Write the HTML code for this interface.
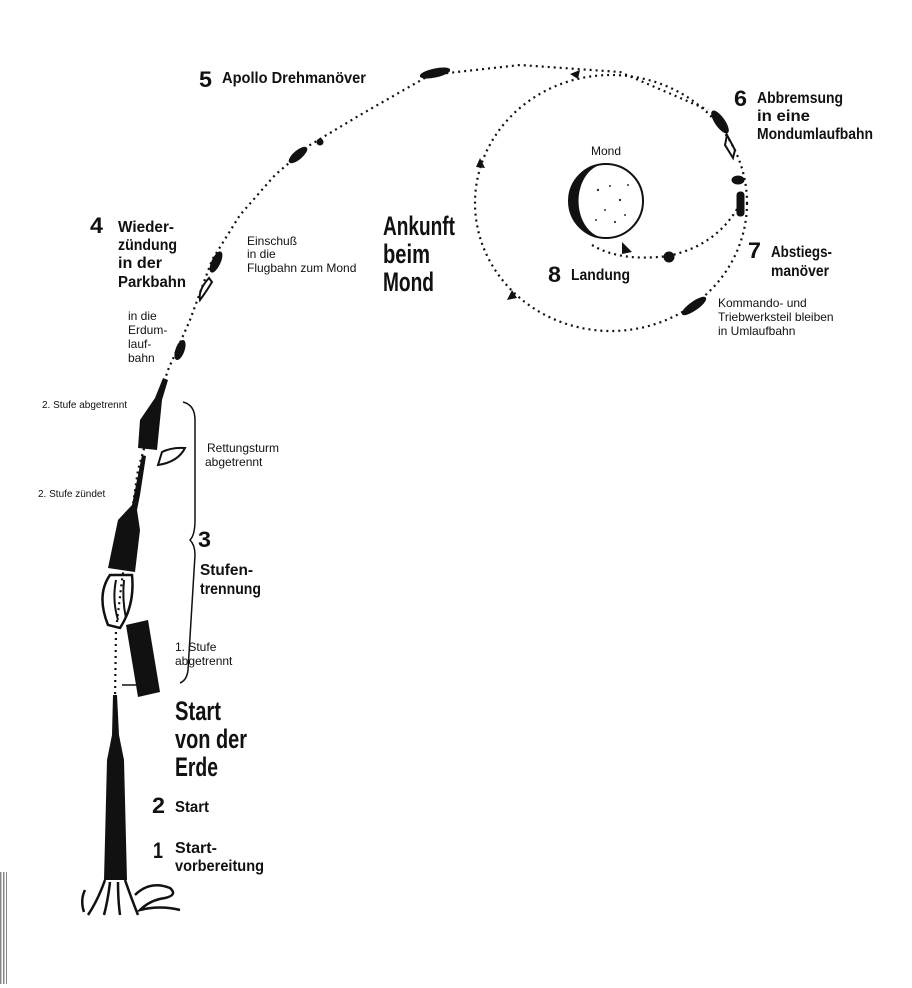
<!DOCTYPE html>
<html><head><meta charset="utf-8">
<style>
html,body{margin:0;padding:0;background:#fff;}
svg{display:block;}
.b{font-family:"Liberation Sans",sans-serif;font-weight:bold;fill:#111;}
.r{font-family:"Liberation Sans",sans-serif;fill:#111;}
</style></head><body>
<svg width="912" height="988" viewBox="0 0 912 988" xmlns="http://www.w3.org/2000/svg">
<rect width="912" height="988" fill="#fff"/>
<g fill="#888"><rect x="0" y="872" width="1.5" height="112"/><rect x="3" y="872" width="1.5" height="112"/><rect x="6" y="872" width="1" height="112"/></g>

<g fill="none" stroke="#111" stroke-width="2.2" stroke-dasharray="2 4">
<path d="M115 700 L116 630 L122 580 L138 470 L152 420 L168 370 L190 320 L212 260 L240 215 L275 175 L310 145 L360 115 L430 75 L520 65 L620 72 L708 110"/>
<ellipse cx="611" cy="203" rx="136" ry="128"/>
<path d="M592 245 Q620 262 668 256 Q720 245 742 200"/>
</g>
<g fill="#111">
<polygon points="570,74 580,70 578,79"/>
<polygon points="480,158 485,168 476,167"/>
<polygon points="512,290 507,300 517,298"/>
<polygon points="622,242 632,252 622,254"/>
</g>

<circle cx="606" cy="201" r="37" fill="#fff" stroke="#111" stroke-width="2"/>
<path d="M606 164 A37 37 0 0 0 606 238 A26 35 0 0 1 606 164Z" fill="#111"/>
<g fill="#333"><circle cx="598" cy="190" r="1.2"/><circle cx="610" cy="186" r="1"/><circle cx="620" cy="200" r="1.2"/><circle cx="605" cy="210" r="1"/><circle cx="615" cy="222" r="1.1"/><circle cx="596" cy="220" r="1"/><circle cx="628" cy="185" r="1"/><circle cx="625" cy="215" r="1"/></g>

<g fill="#111" stroke="#111">
<ellipse cx="435" cy="73" rx="15" ry="4" transform="rotate(-12 435 73)"/>
<ellipse cx="298" cy="155" rx="11" ry="4" transform="rotate(-40 298 155)"/>
<circle cx="320" cy="142" r="3"/>
<ellipse cx="216" cy="262" rx="11" ry="4" transform="rotate(-65 216 262)"/>
<path d="M209 278 Q198 290 200 300 Q206 292 212 282Z" fill="none" stroke-width="2"/>
<ellipse cx="180" cy="350" rx="10" ry="4" transform="rotate(-70 180 350)"/>
<ellipse cx="720" cy="122" rx="13" ry="4.5" transform="rotate(55 720 122)"/>
<path d="M727 135 L735 150 L733 158 L725 145Z" fill="none" stroke-width="2"/>
<ellipse cx="738" cy="180" rx="6" ry="4"/>
<rect x="737" y="192" width="7" height="24" rx="3"/>
<ellipse cx="694" cy="306" rx="14" ry="4" transform="rotate(-35 694 306)"/>
<ellipse cx="669" cy="257" rx="5" ry="5"/>
</g>

<g fill="#111">
<path d="M163 378 L168 380 L162 400 L157 450 L138 448 L140 420 L155 398Z"/>
<path d="M162 452 Q172 447 185 448 Q178 462 158 465Z" fill="none" stroke="#111" stroke-width="2"/>
<path d="M142 455 L146 456 L140 495 L137 510 L140 530 L135 572 L108 568 L118 520 L132 505Z"/>
<path d="M110 575 Q96 595 108 625 L120 628 Q135 605 132 575Z" fill="none" stroke="#111" stroke-width="2.5"/>
<path d="M116 580 Q112 600 118 620 M124 580 Q122 600 126 618" fill="none" stroke="#111" stroke-width="2"/>
<path d="M126 625 L148 620 L160 692 L138 697Z"/>
<path d="M113 695 L117 695 L119 735 L124 760 L127 880 L104 880 L107 760 L112 735Z"/>
</g>
<line x1="122" y1="685" x2="140" y2="685" stroke="#111" stroke-width="1.5"/>
<g fill="none" stroke="#111" stroke-width="2.5">
<path d="M105 880 Q98 900 88 915 M110 882 Q108 900 104 915 M118 882 Q118 900 120 915 M125 880 Q132 900 138 915"/>
<path d="M135 895 Q150 880 170 888 Q178 895 165 898 Q150 900 140 910 Q160 905 180 910"/>
<path d="M85 890 Q80 900 84 912"/>
</g>
<path d="M183 402 Q195 405 195 420 L195 520 Q195 535 190 540 Q195 545 195 555 L188 670 Q187 680 180 683" fill="none" stroke="#111" stroke-width="1.5"/>

<text class="b" x="199" y="87" font-size="22" textLength="13" lengthAdjust="spacingAndGlyphs">5</text>
<text class="b" x="222" y="83" font-size="16" textLength="144" lengthAdjust="spacingAndGlyphs">Apollo Drehmanöver</text>
<text class="b" x="734" y="106" font-size="22" textLength="13" lengthAdjust="spacingAndGlyphs">6</text>
<text class="b" x="757" y="103" font-size="16" textLength="86" lengthAdjust="spacingAndGlyphs">Abbremsung</text>
<text class="b" x="757" y="121" font-size="16" textLength="53" lengthAdjust="spacingAndGlyphs">in eine</text>
<text class="b" x="757" y="139" font-size="16" textLength="116" lengthAdjust="spacingAndGlyphs">Mondumlaufbahn</text>
<text class="b" x="90" y="233" font-size="22" textLength="13" lengthAdjust="spacingAndGlyphs">4</text>
<text class="b" x="118" y="232" font-size="16" textLength="56" lengthAdjust="spacingAndGlyphs">Wieder-</text>
<text class="b" x="118" y="250" font-size="16" textLength="59" lengthAdjust="spacingAndGlyphs">zündung</text>
<text class="b" x="118" y="268" font-size="16" textLength="44" lengthAdjust="spacingAndGlyphs">in der</text>
<text class="b" x="118" y="287" font-size="16" textLength="68" lengthAdjust="spacingAndGlyphs">Parkbahn</text>
<text class="r" x="247" y="245" font-size="12">Einschuß</text>
<text class="r" x="247" y="258" font-size="12">in die</text>
<text class="r" x="247" y="272" font-size="12">Flugbahn zum Mond</text>
<text class="b" x="383" y="235" font-size="27" textLength="72" lengthAdjust="spacingAndGlyphs">Ankunft</text>
<text class="b" x="383" y="263" font-size="27" textLength="47" lengthAdjust="spacingAndGlyphs">beim</text>
<text class="b" x="383" y="291" font-size="27" textLength="51" lengthAdjust="spacingAndGlyphs">Mond</text>
<text class="r" x="591" y="155" font-size="12">Mond</text>
<text class="b" x="548" y="282" font-size="22" textLength="13" lengthAdjust="spacingAndGlyphs">8</text>
<text class="b" x="571" y="280" font-size="16" textLength="59" lengthAdjust="spacingAndGlyphs">Landung</text>
<text class="b" x="748" y="258" font-size="22" textLength="13" lengthAdjust="spacingAndGlyphs">7</text>
<text class="b" x="771" y="257" font-size="16" textLength="61" lengthAdjust="spacingAndGlyphs">Abstiegs-</text>
<text class="b" x="771" y="276" font-size="16" textLength="58" lengthAdjust="spacingAndGlyphs">manöver</text>
<text class="r" x="718" y="307" font-size="12">Kommando- und</text>
<text class="r" x="718" y="321" font-size="12">Triebwerksteil bleiben</text>
<text class="r" x="718" y="335" font-size="12">in Umlaufbahn</text>
<text class="r" x="128" y="320" font-size="12">in die</text>
<text class="r" x="128" y="334" font-size="12">Erdum-</text>
<text class="r" x="128" y="348" font-size="12">lauf-</text>
<text class="r" x="128" y="362" font-size="12">bahn</text>
<text class="r" x="42" y="408" font-size="10">2. Stufe abgetrennt</text>
<text class="r" x="207" y="452" font-size="12">Rettungsturm</text>
<text class="r" x="205" y="466" font-size="12">abgetrennt</text>
<text class="r" x="38" y="497" font-size="10">2. Stufe zündet</text>
<text class="b" x="198" y="547" font-size="22" textLength="13" lengthAdjust="spacingAndGlyphs">3</text>
<text class="b" x="200" y="575" font-size="16" textLength="53" lengthAdjust="spacingAndGlyphs">Stufen-</text>
<text class="b" x="200" y="594" font-size="16" textLength="61" lengthAdjust="spacingAndGlyphs">trennung</text>
<text class="r" x="175" y="651" font-size="12">1. Stufe</text>
<text class="r" x="175" y="665" font-size="12">abgetrennt</text>
<text class="b" x="175" y="720" font-size="27" textLength="46" lengthAdjust="spacingAndGlyphs">Start</text>
<text class="b" x="175" y="748" font-size="27" textLength="72" lengthAdjust="spacingAndGlyphs">von der</text>
<text class="b" x="175" y="776" font-size="27" textLength="43" lengthAdjust="spacingAndGlyphs">Erde</text>
<text class="b" x="152" y="813" font-size="22" textLength="13" lengthAdjust="spacingAndGlyphs">2</text>
<text class="b" x="175" y="812" font-size="16" textLength="34" lengthAdjust="spacingAndGlyphs">Start</text>
<text class="b" x="153" y="858" font-size="22" textLength="10" lengthAdjust="spacingAndGlyphs">1</text>
<text class="b" x="175" y="853" font-size="16" textLength="42" lengthAdjust="spacingAndGlyphs">Start-</text>
<text class="b" x="175" y="871" font-size="16" textLength="89" lengthAdjust="spacingAndGlyphs">vorbereitung</text>
</svg>
</body></html>
